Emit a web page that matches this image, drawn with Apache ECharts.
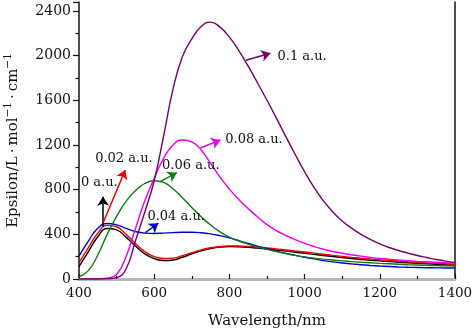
<!DOCTYPE html>
<html>
<head>
<meta charset="utf-8">
<script src="https://cdn.jsdelivr.net/npm/echarts@6/dist/echarts.min.js"></script>
<style>html,body{margin:0;padding:0;background:#fff}#c{width:474px;height:329px}</style>
</head>
<body>
<div id="c"></div>
<script>
const wavelength = [400,425,450,475,500,525,550,575,600,625,650,675,700,725,750,775,800,825,850,875,900,925,950,975,1000,1025,1050,1075,1100,1125,1150,1175,1200,1225,1250,1275,1300,1325,1350,1375,1400];
const s0   = [110,245,378,452,440,375,295,225,183,165,170,195,225,252,272,285,290,288,283,276,268,259,250,240,230,220,210,201,192,183,175,168,162,156,150,145,140,136,132,128,125];
const s002 = [145,282,410,480,468,400,318,245,200,184,187,208,236,261,280,291,297,295,292,285,278,269,260,251,242,232,222,212,203,194,186,179,172,166,160,154,149,144,140,136,132];
const s004 = [205,340,455,497,485,453,425,411,408,411,415,418,418,414,404,388,368,343,318,294,272,250,230,212,195,180,165,153,143,135,127,121,116,112,108,105,103,101,100,99,98];
const s006 = [20,75,215,400,560,695,790,855,880,865,808,728,640,557,483,422,375,340,312,287,265,245,227,211,198,187,178,170,162,156,150,145,140,136,132,128,125,122,120,118,116];
const s008 = [0,0,2,8,40,200,450,700,900,1080,1200,1245,1228,1155,1035,912,805,712,630,555,487,433,390,352,320,291,266,246,230,217,205,194,185,177,170,164,158,154,150,146,143];
const s010 = [0,0,0,2,12,90,340,600,880,1280,1700,1990,2150,2260,2300,2255,2165,2045,1905,1755,1600,1440,1275,1115,960,820,700,600,520,455,400,355,315,282,255,232,210,192,175,160,147];
const seriesNames = ['0 a.u.','0.02 a.u.','0.04 a.u.','0.06 a.u.','0.08 a.u.','0.1 a.u.'];
const seriesValues = [s0, s002, s004, s006, s008, s010];
const colors = ['#000000','#ee0000','#0000cc','#127a12','#f000f0','#74006e'];
// annotation arrows (data coords): start, end, label anchor
const arrowStart = [[464,468],[464,501],[576,414],[616,871],[723,1173],[844,1958]];
const arrowEnd   = [[464,737],[523,976],[611,499],[660,952],[776,1244],[909,2021]];
const labelAt    = [[405,862],[443,1074],[582,555],[621,1012],[789,1244],[928,1987]];
const xTicks = [400,600,800,1000,1200,1400];
const yTicks = [0,400,800,1200,1600,2000,2400];

const font = 'DejaVu Serif';
const series = seriesValues.map((vals, i) => ({
  name: seriesNames[i],
  type: 'line',
  smooth: 0.5,
  showSymbol: false,
  data: wavelength.map((w, k) => [w, vals[k]]),
  lineStyle: { color: colors[i], width: 1.4 },
  itemStyle: { color: colors[i] },
  z: 3,
  markLine: {
    silent: true, animation: false,
    symbol: ['none', 'arrow'], symbolSize: 9,
    label: { show: false },
    lineStyle: { color: colors[i], width: 1.5, type: 'solid' },
    data: [[{ coord: arrowStart[i] }, { coord: arrowEnd[i] }]]
  },
  markPoint: {
    silent: true, animation: false,
    symbol: 'rect', symbolSize: 0,
    label: { show: true, position: 'right', distance: 0, color: '#111', fontFamily: font, fontSize: 13,
             formatter: () => seriesNames[i] },
    data: [{ coord: labelAt[i] }]
  }
}));

const chart = echarts.init(document.getElementById('c'), null, { renderer: 'canvas' });
chart.setOption({
  animation: false,
  backgroundColor: '#fff',
  grid: { left: 79, right: 19, top: 2, bottom: 50, containLabel: false, outerBoundsMode: 'none' },
  xAxis: [{
    type: 'value', min: 400, max: 1400, interval: 200,
    name: 'Wavelength/nm', nameLocation: 'middle', nameGap: 35,
    nameTextStyle: { fontFamily: font, fontSize: 15, color: '#111' },
    axisLine: { show: true, lineStyle: { color: '#111', width: 1.5 } },
    axisTick: { show: true, inside: true, length: 5, lineStyle: { color: '#111', width: 1.2 } },
    minorTick: { show: true, splitNumber: 2, length: 3, lineStyle: { color: '#111', width: 1.2 } },
    axisLabel: { fontFamily: font, fontSize: 13.5, color: '#111', margin: 7,
                 formatter: v => xTicks.includes(v) ? String(v) : '' },
    splitLine: { show: false }
  }, {
    type: 'value', position: 'top', min: 400, max: 1400,
    axisLine: { show: true, lineStyle: { color: '#b8b8b8', width: 3 } },
    axisTick: { show: false }, axisLabel: { show: false }, splitLine: { show: false }
  }],
  yAxis: [{
    type: 'value', min: 0, max: 2480, interval: 400,
    name: 'Epsilon/L\u2009·\u2009mol{s|\u22121}\u2009·\u2009cm{s|\u22121}', nameLocation: 'middle', nameGap: 56,
    nameTextStyle: { fontFamily: font, fontSize: 15, color: '#111', lineHeight: 20,
      rich: { s: { fontFamily: font, fontSize: 10.5, color: '#111', verticalAlign: 'top', lineHeight: 20 } } },
    axisLine: { show: true, lineStyle: { color: '#111', width: 1.5 } },
    axisTick: { show: true, inside: false, length: 6, lineStyle: { color: '#111', width: 1.2 } },
    minorTick: { show: true, splitNumber: 2, length: 3.5, lineStyle: { color: '#111', width: 1.2 } },
    axisLabel: { fontFamily: font, fontSize: 14, color: '#111', margin: 8,
                 formatter: v => yTicks.includes(v) ? String(v) : '' },
    splitLine: { show: false }
  }, {
    type: 'value', position: 'right', min: 0, max: 2480,
    axisLine: { show: true, lineStyle: { color: '#111', width: 1.5 } },
    axisTick: { show: false }, axisLabel: { show: false }, splitLine: { show: false }
  }],
  series: series
});
</script>
</body>
</html>
